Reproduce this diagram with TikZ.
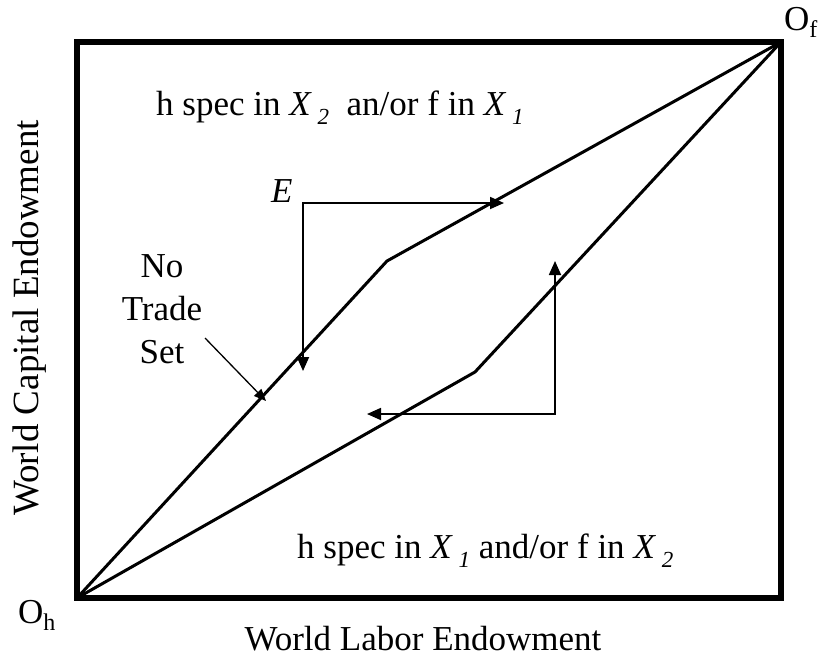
\documentclass[tikz,border=0pt]{standalone}
\usepackage{fontspec}
\setmainfont{Liberation Serif}
\usetikzlibrary{arrows.meta}
\newcommand{\subX}[1]{\textit{X}\,\raisebox{-0.28em}{\fontsize{23}{23}\selectfont\textit{#1}}}
\newcommand{\subO}[1]{O\raisebox{-0.22em}{\fontsize{24}{24}\selectfont #1}}
\begin{document}
\begin{tikzpicture}[x=1pt,y=-1pt,
  lbl/.style={font=\fontsize{35}{40}\selectfont, inner sep=0pt},
  frame/.style={line width=6pt},
  curve/.style={line width=3pt},
  arrboth/.style={line width=1.8pt, {Triangle[length=14pt,width=12pt]}-{Triangle[length=14pt,width=12pt]}},
  ptr/.style={line width=1.3pt, -{Triangle[length=12pt,width=10pt]}}]
\useasboundingbox (0,0) rectangle (827,662);
\coordinate (Oh) at (77,598);
\coordinate (Of) at (781,42);
\draw[frame] (Oh) rectangle (Of);
\coordinate (ku) at (387,261);
\coordinate (kl) at (475,372);
\draw[curve] (Oh) -- (ku) -- (Of);
\draw[curve] (Oh) -- (kl) -- (Of);
% E arrows
\coordinate (e) at (303,203);
\coordinate (eR) at (504,203);
\coordinate (eD) at (303,371);
\draw[arrboth] (eD) -- (e) -- (eR);
% lower-right arrows
\coordinate (g) at (555,414);
\coordinate (gL) at (367,414);
\coordinate (gU) at (555,261);
\draw[arrboth] (gL) -- (g) -- (gU);
% labels
\node[lbl, anchor=base west] (top) at (156,115) {h spec in \subX{2}\ \ an/or f in \subX{1}};
\node[lbl, anchor=base west] (bot) at (297,558) {h spec in \subX{1} and/or f in \subX{2}};
\node[lbl, anchor=base] (xl) at (423,650) {World Labor Endowment};
\node[lbl, font=\fontsize{37}{42}\selectfont, anchor=base, rotate=90] (yl) at (38,318) {World Capital Endowment};
\node[lbl, anchor=base] (no) at (162,277) {No};
\node[lbl, anchor=base] (trade) at (162,320) {Trade};
\node[lbl, anchor=base] (set) at (162,363) {Set};
\coordinate (ps) at (205,338);
\coordinate (pt) at (266,401);
\draw[ptr] (ps) -- (pt);
\node[lbl, anchor=base west] (E) at (271,202) {\textit{E}};
\node[lbl, anchor=base west] (oh) at (18,623) {\subO{h}};
\node[lbl, anchor=base west] (of) at (784,30) {\subO{f}};
\end{tikzpicture}
\end{document}
